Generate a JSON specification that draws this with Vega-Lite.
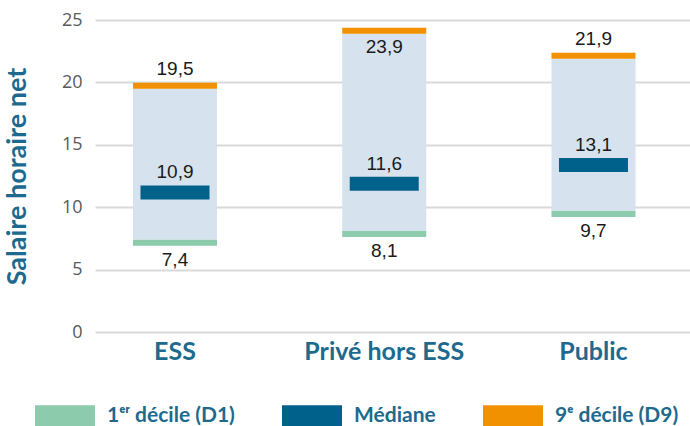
{
  "$schema": "https://vega.github.io/schema/vega-lite/v6.json",
  "autosize": {"type": "none"},
  "width": 595,
  "height": 312,
  "padding": {"left": 95, "top": 20, "right": 0, "bottom": 94},
  "background": "white",
  "data": {
    "values": [
      {"cat": "ESS", "d1": 7.4, "med": 10.9, "d9": 19.5},
      {"cat": "Privé hors ESS", "d1": 8.1, "med": 11.6, "d9": 23.9},
      {"cat": "Public", "d1": 9.7, "med": 13.1, "d9": 21.9}
    ]
  },
  "encoding": {
    "x": {
      "field": "cat",
      "type": "nominal",
      "sort": null,
      "scale": {"paddingInner": 0.3, "paddingOuter": 0.0718, "align": 0.225},
      "axis": {
        "title": null,
        "labelAngle": 0,
        "domain": false,
        "ticks": false,
        "labelFont": "Lato",
        "labelFontWeight": "bold",
        "labelFontSize": 25,
        "labelColor": "#1d6a8e",
        "labelPadding": 7
      }
    }
  },
  "layer": [
    {
      "mark": {"type": "bar", "size": 84, "color": "#d6e3ee"},
      "encoding": {
        "y": {
          "field": "d1",
          "type": "quantitative",
          "scale": {"domain": [0, 25], "nice": false},
          "axis": {
            "title": "Salaire horaire net",
            "titleFont": "Lato",
            "titleFontWeight": "bold",
            "titleFontSize": 27,
            "titleColor": "#1d6a8e",
            "titlePadding": 30,
            "values": [0, 5, 10, 15, 20, 25],
            "format": "d",
            "domain": false,
            "ticks": false,
            "gridColor": "#d9d9d9",
            "gridWidth": 2,
            "labelFont": "Open Sans",
            "labelFontSize": 18,
            "labelColor": "#595959",
            "labelPadding": 13
          }
        },
        "y2": {"field": "d9"}
      }
    },
    {
      "transform": [
        {"fold": ["d1", "med", "d9"], "as": ["stat", "val"]},
        {"filter": "datum.stat == 'd1'"}
      ],
      "mark": {"type": "tick", "size": 84, "thickness": 6, "yOffset": 3, "opacity": 1},
      "encoding": {
        "y": {"field": "val", "type": "quantitative"},
        "color": {"field": "stat", "type": "nominal"}
      }
    },
    {
      "transform": [
        {"fold": ["d1", "med", "d9"], "as": ["stat", "val"]},
        {"filter": "datum.stat == 'med'"}
      ],
      "mark": {"type": "tick", "size": 69, "thickness": 14, "yOffset": -3.4, "opacity": 1},
      "encoding": {
        "y": {"field": "val", "type": "quantitative"},
        "color": {"field": "stat", "type": "nominal"}
      }
    },
    {
      "transform": [
        {"fold": ["d1", "med", "d9"], "as": ["stat", "val"]},
        {"filter": "datum.stat == 'd9'"}
      ],
      "mark": {"type": "tick", "size": 84, "thickness": 6, "yOffset": -3, "opacity": 1},
      "encoding": {
        "y": {"field": "val", "type": "quantitative"},
        "color": {
          "field": "stat",
          "type": "nominal",
          "scale": {"domain": ["d1", "med", "d9"], "range": ["#8ccbab", "#00618b", "#f29100"]},
          "legend": {
            "title": null,
            "orient": "none",
            "legendX": -60,
            "legendY": 365.5,
            "direction": "horizontal",
            "symbolType": "M-1,-0.35H1V0.35H-1Z",
            "symbolSize": 3600,
            "symbolStrokeWidth": 0,
            "symbolOpacity": 1,
            "labelOffset": 12,
            "columnPadding": 47,
            "labelFont": "Lato",
            "labelFontWeight": "bold",
            "labelFontSize": 21,
            "labelColor": "#1d6a8e",
            "labelLimit": 300,
            "labelExpr": "datum.label == 'd1' ? '1ᵉʳ décile (D1)' : datum.label == 'med' ? 'Médiane' : '9ᵉ décile (D9)'"
          }
        }
      }
    },
    {
      "mark": {"type": "text", "font": "Liberation Sans", "fontSize": 19, "color": "#1a1a1a", "baseline": "middle", "yOffset": 20},
      "encoding": {
        "y": {"field": "d1", "type": "quantitative"},
        "text": {"field": "d1", "type": "quantitative", "format": ".1f"}
      }
    },
    {
      "mark": {"type": "text", "font": "Liberation Sans", "fontSize": 19, "color": "#1a1a1a", "baseline": "middle", "yOffset": -23.5},
      "encoding": {
        "y": {"field": "med", "type": "quantitative"},
        "text": {"field": "med", "type": "quantitative", "format": ".1f"}
      }
    },
    {
      "transform": [{"filter": "datum.cat != 'Privé hors ESS'"}],
      "mark": {"type": "text", "font": "Liberation Sans", "fontSize": 19, "color": "#1a1a1a", "baseline": "middle", "yOffset": -20},
      "encoding": {
        "y": {"field": "d9", "type": "quantitative"},
        "text": {"field": "d9", "type": "quantitative", "format": ".1f"}
      }
    },
    {
      "transform": [{"filter": "datum.cat == 'Privé hors ESS'"}],
      "mark": {"type": "text", "font": "Liberation Sans", "fontSize": 19, "color": "#1a1a1a", "baseline": "middle", "yOffset": 13},
      "encoding": {
        "y": {"field": "d9", "type": "quantitative"},
        "text": {"field": "d9", "type": "quantitative", "format": ".1f"}
      }
    }
  ],
  "config": {
    "view": {"stroke": null},
    "locale": {"number": {"decimal": ",", "thousands": " ", "grouping": [3], "currency": ["", " €"]}}
  }
}
